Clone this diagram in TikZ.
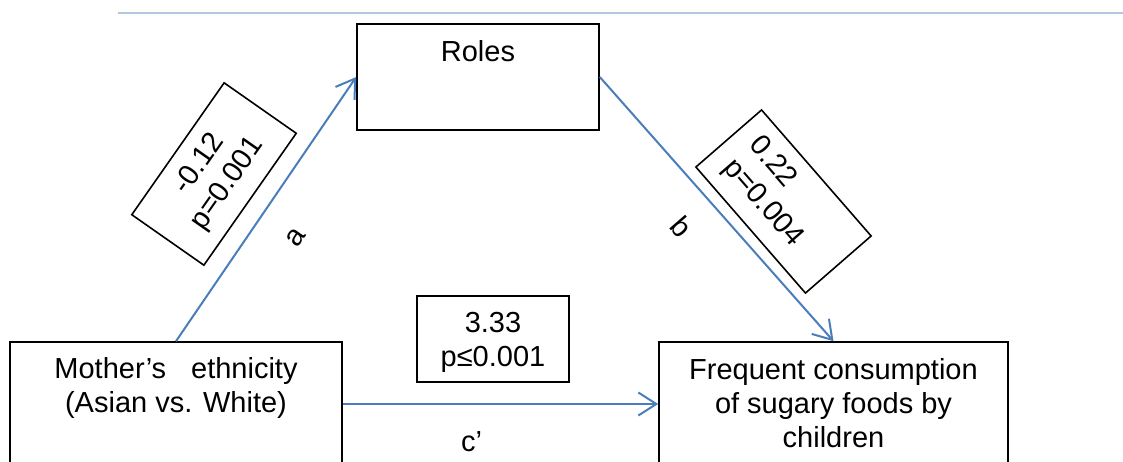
\documentclass[tikz,border=0pt]{standalone}
\usepackage{fontspec}
\setmainfont{Liberation Sans}
\usetikzlibrary{arrows.meta}
\definecolor{lineblue}{RGB}{74,126,187}
\definecolor{ruleblue}{RGB}{180,199,224}
\begin{document}
\begin{tikzpicture}[x=1pt,y=-1pt,
  every node/.style={font=\fontsize{29}{34}\selectfont},
  box/.style={draw=black, line width=1.6pt, inner sep=0pt},
  txt/.style={inner sep=0pt, align=center},
  conn/.style={draw=lineblue, line width=2pt, -{Straight Barb[length=18pt,width=23pt]}}
]
\useasboundingbox (0,0) rectangle (1123,461);
\clip (0,0) rectangle (1123,461);
% top rule
\coordinate (ruleL) at (118,13);
\coordinate (ruleR) at (1123,13);
\draw[ruleblue, line width=2pt] (ruleL) -- (ruleR);

% main boxes
\node[box, minimum width=242pt, minimum height=106pt] (roles) at (478,77) {};
\node[txt, anchor=north, yshift=-17pt] (rolesT) at (roles.north) {Roles};

\node[box, minimum width=332pt, minimum height=124pt] (mother) at (176,404) {};
\node[txt, anchor=north, yshift=-16pt] (motherT) at (mother.north) {Mother’s\hspace{25pt}ethnicity\\(Asian vs. White)};

\node[box, minimum width=349pt, minimum height=124pt] (freq) at (833.5,404) {};
\node[txt, anchor=north, yshift=-17.5pt] (freqT) at (freq.north) {Frequent consumption\\of sugary foods by\\children};

% connectors
\draw[conn] (mother.north) -- (roles.west);
\draw[conn] (roles.east) -- (freq.north);
\draw[conn] (mother.east) -- (freq.west);

% coefficient boxes
\node[box, rotate=55, minimum width=161pt, minimum height=88pt, align=center] (coefA) at (214,174) {-0.12\\p=0.001};
\node[box, rotate=-49, minimum width=167pt, minimum height=87pt, text width=130pt, align=left] (coefB) at (783.5,201.5) {0.22\\p=0.004};
\node[box, minimum width=152pt, minimum height=86pt] (coefC) at (493,339) {};
\node[txt, anchor=north, yshift=-16.5pt] (coefCT) at (coefC.north) {3.33\\p≤0.001};

% path labels
\node[inner sep=0pt, rotate=55] (labA) at (296,237) {a};
\node[inner sep=0pt, rotate=-49] (labB) at (682,227) {b};
\node[inner sep=0pt] (labC) at (471.5,442) {c’};
\end{tikzpicture}
\end{document}
